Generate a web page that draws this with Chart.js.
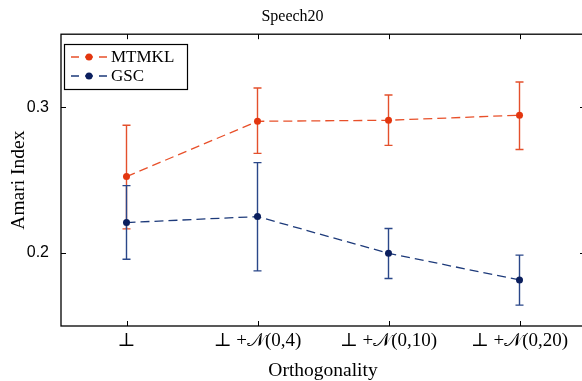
<!DOCTYPE html>
<html>
<head>
<meta charset="utf-8">
<script src="https://cdn.jsdelivr.net/npm/chart.js@4.4.1/dist/chart.umd.min.js"></script>
<style>
html, body { margin: 0; padding: 0; background: #fff; overflow: hidden; }
</style>
</head>
<body>
<canvas id="chart" width="590" height="381"></canvas>
<script>
const categories = ['⊥', '⊥ +𝒩(0,4)', '⊥ +𝒩(0,10)', '⊥ +𝒩(0,20)'];
const mtmkl = [0.2524, 0.2903, 0.2910, 0.2945];
const mtmklLow = [0.2166, 0.2683, 0.2738, 0.2710];
const mtmklHigh = [0.2876, 0.3131, 0.3083, 0.3172];
const gsc = [0.2209, 0.2250, 0.1998, 0.1816];
const gscLow = [0.1957, 0.1878, 0.1826, 0.1643];
const gscHigh = [0.2462, 0.2620, 0.2168, 0.1986];
const yTicks = [0.2, 0.3];
const yRange = [0.15, 0.35];

const serif = '"Liberation Serif", "DejaVu Serif", serif';

// error bars under the lines
const errorBars = {
  id: 'errorBars',
  beforeDatasetsDraw(chart) {
    const ctx = chart.ctx;
    const xs = chart.scales.x, ys = chart.scales.y;
    chart.data.datasets.forEach(ds => {
      ctx.save();
      ctx.strokeStyle = ds.errColor;
      ctx.lineWidth = 1.4;
      ds.errLow.forEach((lo, i) => {
        const x = xs.getPixelForValue(i);
        const y1 = ys.getPixelForValue(lo);
        const y2 = ys.getPixelForValue(ds.errHigh[i]);
        ctx.beginPath();
        ctx.moveTo(x, y1); ctx.lineTo(x, y2);
        ctx.moveTo(x - 4, y1); ctx.lineTo(x + 4, y1);
        ctx.moveTo(x - 4, y2); ctx.lineTo(x + 4, y2);
        ctx.stroke();
      });
      ctx.restore();
    });
  }
};

// matlab style box with inward ticks + legend inside
const frame = {
  id: 'frame',
  afterDraw(chart) {
    const ctx = chart.ctx;
    const a = chart.chartArea;
    const xs = chart.scales.x, ys = chart.scales.y;
    ctx.save();
    ctx.strokeStyle = '#000';
    ctx.lineWidth = 1.3;
    ctx.strokeRect(a.left, a.top, a.right - a.left, a.bottom - a.top);
    ctx.lineWidth = 1;
    ctx.beginPath();
    xs.ticks.forEach((t, i) => {
      const x = Math.round(xs.getPixelForTick(i)) + 0.5;
      ctx.moveTo(x, a.bottom); ctx.lineTo(x, a.bottom - 5);
      ctx.moveTo(x, a.top); ctx.lineTo(x, a.top + 5);
    });
    yTicks.forEach(v => {
      const y = Math.round(ys.getPixelForValue(v)) + 0.5;
      ctx.moveTo(a.left, y); ctx.lineTo(a.left + 5, y);
      ctx.moveTo(a.right, y); ctx.lineTo(a.right - 5, y);
    });
    ctx.stroke();

    // legend
    const bx = 64, by = 44, bw = 123, bh = 45;
    ctx.fillStyle = '#fff';
    ctx.fillRect(bx, by, bw, bh);
    ctx.lineWidth = 1.2;
    ctx.strokeRect(bx + 0.5, by + 0.5, bw, bh);
    ctx.font = '17px ' + serif;
    ctx.textBaseline = 'middle';
    chart.data.datasets.forEach((ds, i) => {
      const y = by + 13 + i * 19;
      ctx.strokeStyle = ds.borderColor;
      ctx.lineWidth = 1.3;
      ctx.setLineDash([8, 6]);
      ctx.beginPath();
      ctx.moveTo(bx + 7, y); ctx.lineTo(bx + 43, y);
      ctx.stroke();
      ctx.setLineDash([]);
      ctx.fillStyle = ds.pointBackgroundColor;
      ctx.beginPath();
      ctx.arc(bx + 25, y, 3.5, 0, Math.PI * 2);
      ctx.fill();
      ctx.fillStyle = '#000';
      ctx.fillText(ds.label, bx + 47, y + 1);
    });
    ctx.restore();
  }
};

new Chart(document.getElementById('chart'), {
  type: 'line',
  data: {
    labels: categories,
    datasets: [
      {
        label: 'MTMKL', data: mtmkl, errLow: mtmklLow, errHigh: mtmklHigh,
        borderColor: '#e8502a', errColor: '#e4502c',
        pointBackgroundColor: '#e3360f', pointBorderColor: '#e3360f'
      },
      {
        label: 'GSC', data: gsc, errLow: gscLow, errHigh: gscHigh,
        borderColor: '#1d3a7a', errColor: '#2a4789',
        pointBackgroundColor: '#0b1f5e', pointBorderColor: '#0b1f5e'
      }
    ]
  },
  options: {
    responsive: false,
    animation: false,
    devicePixelRatio: 1,
    layout: { padding: { top: 0, right: 5, left: 0, bottom: 0 } },
    elements: {
      line: { borderWidth: 1.3, borderDash: [9, 5], tension: 0, fill: false },
      point: { radius: 3.5, borderWidth: 0, hoverRadius: 3.5 }
    },
    plugins: {
      legend: { display: false },
      tooltip: { enabled: false },
      title: {
        display: true, text: 'Speech20', color: '#000',
        font: { family: serif, size: 16, weight: 'normal', lineHeight: 1.2 },
        padding: { top: 7, bottom: 8 }
      }
    },
    scales: {
      x: {
        type: 'category', offset: true,
        grid: { display: false, drawTicks: false },
        border: { display: false },
        ticks: { color: '#000', padding: 4, maxRotation: 0, font: { family: serif, size: 19 } },
        title: {
          display: true, text: 'Orthogonality', color: '#000',
          font: { family: serif, size: 19.5, lineHeight: 1 }, padding: { top: 0, bottom: 0 }
        },
        afterFit(s) { s.height = 55; }
      },
      y: {
        min: yRange[0], max: yRange[1],
        afterBuildTicks(s) { s.ticks = yTicks.map(v => ({ value: v })); },
        grid: { display: false, drawTicks: false },
        border: { display: false },
        ticks: {
          color: '#000', padding: 12,
          font: { family: '"Liberation Sans", Arial, sans-serif', size: 16 },
          callback: v => v.toFixed(1)
        },
        title: {
          display: true, text: 'Amari Index', color: '#000',
          font: { family: serif, size: 19.5 }, padding: { top: 7, bottom: 0 }
        },
        afterFit(s) { s.width = 61; }
      }
    }
  },
  plugins: [errorBars, frame]
});
</script>
</body>
</html>
